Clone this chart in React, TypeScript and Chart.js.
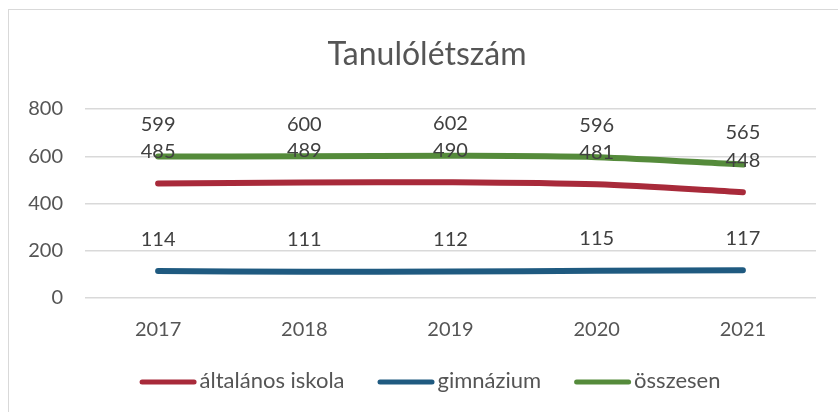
import React, { useEffect, useRef } from "react";
import { Chart, registerables } from "chart.js";

Chart.register(...registerables);

const title = "Tanulólétszám";
const years = ["2017", "2018", "2019", "2020", "2021"];
const altalanos = [485, 489, 490, 481, 448];
const gimnazium = [114, 111, 112, 115, 117];
const osszesen = [599, 600, 602, 596, 565];
const seriesNames = ["általános iskola", "gimnázium", "összesen"];
const seriesColors = ["#A82A3A", "#1F5A80", "#558B3B"];
const yTicks = [0, 200, 400, 600, 800];

const FONT = "Lato, 'Open Sans', sans-serif";

const customPlugin = {
  id: "custom",
  afterDatasetsDraw(chart: any) {
    const ctx = chart.ctx;
    ctx.save();
    // data labels
    ctx.font = `20px ${FONT}`;
    ctx.fillStyle = "#404040";
    ctx.textAlign = "center";
    ctx.textBaseline = "middle";
    chart.data.datasets.forEach((ds: any, i: number) => {
      const meta = chart.getDatasetMeta(i);
      meta.data.forEach((pt: any, j: number) => {
        ctx.fillText(String(ds.data[j]), pt.x, pt.y - 32);
      });
    });
    // title
    ctx.font = `32px ${FONT}`;
    ctx.fillStyle = "#555555";
    ctx.textBaseline = "alphabetic";
    ctx.fillText(title, 427, 65);
    // legend
    ctx.font = `22px ${FONT}`;
    const lineW = 57;
    const gap = 3;
    const itemGap = 33;
    const items = chart.data.datasets.map((ds: any) => ({
      label: ds.label,
      color: ds.borderColor,
      w: lineW + gap + ctx.measureText(ds.label).width,
    }));
    const total = items.reduce((s: number, it: any) => s + it.w, 0) + itemGap * (items.length - 1);
    let x = 430 - total / 2;
    const y = 382;
    items.forEach((it: any) => {
      ctx.strokeStyle = it.color;
      ctx.lineWidth = 5;
      ctx.lineCap = "round";
      ctx.beginPath();
      ctx.moveTo(x + 2.5, y);
      ctx.lineTo(x + lineW - 2.5, y);
      ctx.stroke();
      ctx.fillStyle = "#555555";
      ctx.textAlign = "left";
      ctx.textBaseline = "alphabetic";
      ctx.fillText(it.label, x + lineW + gap, 388);
      x += it.w + itemGap;
    });
    ctx.restore();
  },
};

export default function App() {
  const ref = useRef<HTMLCanvasElement | null>(null);
  useEffect(() => {
    if (!ref.current) return;
    const mk = (i: number, data: number[]) => ({
      label: seriesNames[i],
      data,
      borderColor: seriesColors[i],
      backgroundColor: seriesColors[i],
      borderWidth: 6,
      borderCapStyle: "round" as const,
      borderJoinStyle: "round" as const,
      pointRadius: 0,
      pointHoverRadius: 0,
      tension: 0.3,
      fill: false,
    });
    const chart = new Chart(ref.current, {
      type: "line",
      data: {
        labels: years,
        datasets: [mk(0, altalanos), mk(1, gimnazium), mk(2, osszesen)],
      },
      options: {
        animation: false,
        responsive: false,
        maintainAspectRatio: false,
        layout: { padding: { top: 109, right: 22, bottom: 64, left: 0 } },
        plugins: {
          legend: { display: false },
          title: { display: false },
          tooltip: { enabled: false },
        },
        scales: {
          x: {
            offset: true,
            grid: { display: false, drawTicks: false },
            border: { display: false },
            ticks: { color: "#555555", font: { family: FONT, size: 20 }, padding: 20 },
            afterFit: (s: any) => { s.height = 50; },
          },
          y: {
            min: 0,
            max: 800,
            afterBuildTicks: (s: any) => { s.ticks = yTicks.map((v) => ({ value: v })); },
            grid: { color: "#D9D9D9", lineWidth: 1.5, drawTicks: false },
            border: { display: false },
            ticks: { color: "#555555", font: { family: FONT, size: 20 }, padding: 22 },
            afterFit: (s: any) => { s.width = 85; },
          },
        },
      },
      plugins: [customPlugin],
    });
    return () => chart.destroy();
  }, []);
  return (
    <>
      <div style={{ position: "fixed", left: 0, top: 0, width: 838, height: 412, background: "#fff" }}>
        <canvas ref={ref} width={838} height={412} style={{ width: 838, height: 412, display: "block" }} />
      </div>
      <div
        style={{
          position: "fixed",
          left: 8,
          top: 9,
          width: 840,
          height: 410,
          border: "1.5px solid #D9D9D9",
          pointerEvents: "none",
        }}
      />
    </>
  );
}
